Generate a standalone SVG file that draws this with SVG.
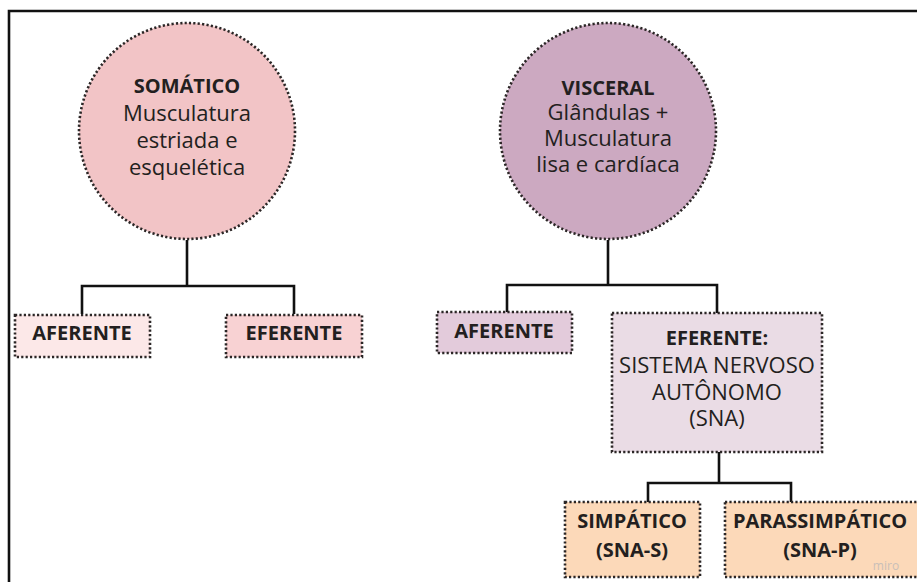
<svg xmlns="http://www.w3.org/2000/svg" width="917" height="582" viewBox="0 0 917 582">
<style>
.n{stroke:#2b2626;stroke-width:2.6;stroke-dasharray:2.2 2.2}
.c{fill:none;stroke:#111;stroke-width:2.6}
text{font-family:"Open Sans","Noto Sans","Liberation Sans",sans-serif;font-size:22px;fill:#231f20;text-anchor:middle}
.b{font-weight:bold;font-size:20px}
</style>
<rect width="917" height="582" fill="#fff"/>
<path d="M9 582V11H917" fill="none" stroke="#111" stroke-width="2.6"/>
<g id="connectors">
<path class="c" d="M187 240V286M82 314V286H294V314"/>
<path class="c" d="M608 240V285M507 312V285H717V313"/>
<path class="c" d="M719 452V483M648 502V483H791V502"/>
</g>
<g id="somatico">
<circle class="n" cx="187" cy="131" r="108" fill="#f2c4c6"/>
<text x="187" y="93" class="b">SOMÁTICO</text>
<text x="187" y="121">Musculatura</text>
<text x="187" y="148">estriada e</text>
<text x="187" y="175">esquelética</text>
</g>
<g id="visceral">
<circle class="n" cx="608" cy="131" r="108" fill="#cca9c1"/>
<text x="608" y="95" class="b">VISCERAL</text>
<text x="608" y="120">Glândulas +</text>
<text x="608" y="146">Musculatura</text>
<text x="608" y="172">lisa e cardíaca</text>
</g>
<g id="aferente-s">
<rect class="n" x="15" y="315" width="135" height="42" fill="#fce8e8"/>
<text x="82" y="340" class="b">AFERENTE</text>
</g>
<g id="eferente-s">
<rect class="n" x="226" y="315" width="136" height="42" fill="#f8d2d3"/>
<text x="294" y="340" class="b">EFERENTE</text>
</g>
<g id="aferente-v">
<rect class="n" x="437" y="312" width="135" height="41" fill="#e3cbdb"/>
<text x="504" y="338" class="b">AFERENTE</text>
</g>
<g id="eferente-v">
<rect class="n" x="612" y="313" width="210" height="139" fill="#eadce5"/>
<text x="717" y="345" class="b">EFERENTE:</text>
<text x="717" y="373">SISTEMA NERVOSO</text>
<text x="717" y="400">AUTÔNOMO</text>
<text x="717" y="426">(SNA)</text>
</g>
<g id="simpatico">
<rect class="n" x="565" y="502" width="135" height="75" fill="#fcd9b9"/>
<text x="632" y="528" class="b">SIMPÁTICO</text>
<text x="632" y="557" class="b">(SNA-S)</text>
</g>
<g id="parassimpatico">
<rect class="n" x="725" y="502" width="210" height="75" fill="#fcd9b9"/>
<text x="820" y="528" class="b">PARASSIMPÁTICO</text>
<text x="820" y="557" class="b">(SNA-P)</text>
<text x="886" y="570" style="font-size:12px;fill:#c9bfb8">miro</text>
</g>
</svg>
